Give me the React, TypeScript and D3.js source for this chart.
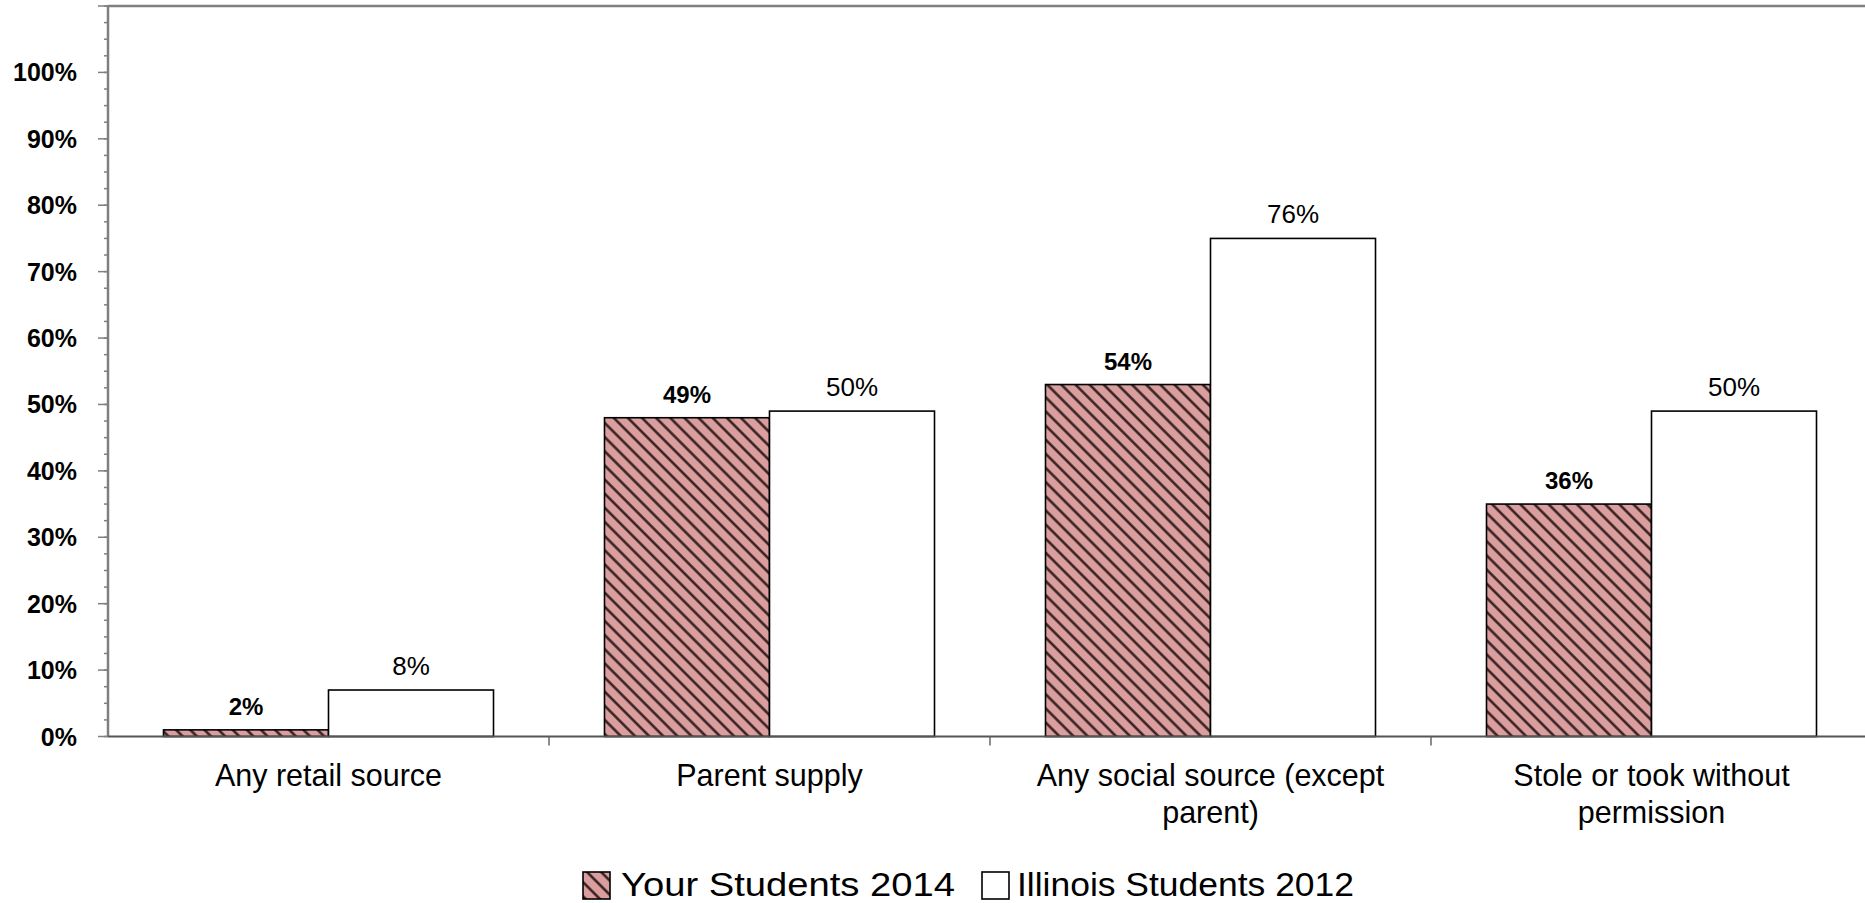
import React from "react";
import * as d3 from "d3";

const categories = [
  "Any retail source",
  "Parent supply",
  "Any social source (except parent)",
  "Stole or took without permission",
];
const categoryLines = [
  ["Any retail source"],
  ["Parent supply"],
  ["Any social source (except", "parent)"],
  ["Stole or took without", "permission"],
];
const seriesNames = ["Your Students 2014", "Illinois Students 2012"];
const yourStudents = [1, 48, 53, 35];
const yourLabels = ["2%", "49%", "54%", "36%"];
const illinoisStudents = [7, 49, 75, 49];
const illinoisLabels = ["8%", "50%", "76%", "50%"];
const yTickValues = [0, 10, 20, 30, 40, 50, 60, 70, 80, 90, 100];

const W = 1865;
const H = 903;
const left = 108;
const top = 6;
const bottom = 736.5;
const catWidth = 441;

const FONT = "'Liberation Sans', Arial, sans-serif";
const PINK = "#DA9E9E";

export default function App() {
  const x = d3
    .scaleBand<string>()
    .domain(categories)
    .range([left, left + catWidth * categories.length])
    .padding(0);
  const xs = d3
    .scaleBand<string>()
    .domain(seriesNames)
    .range([55.5, catWidth - 55.5])
    .padding(0);
  const y = d3.scaleLinear().domain([0, 110]).range([bottom, top]);

  const minorTicks = d3.range(0, 110.01, 2.5);
  const majorTicks = d3.range(0, 110.01, 10);

  const series = [
    { name: seriesNames[0], values: yourStudents, labels: yourLabels, pink: true },
    { name: seriesNames[1], values: illinoisStudents, labels: illinoisLabels, pink: false },
  ];

  return (
    <svg
      width={W}
      height={H}
      style={{ position: "absolute", left: 0, top: 0, background: "#fff" }}
      fontFamily={FONT}
    >
      <defs>
        <pattern
          id="hatch"
          patternUnits="userSpaceOnUse"
          width={10}
          height={10}
          patternTransform="rotate(45)"
        >
          <rect width={10} height={10} fill={PINK} />
          <line x1={0} y1={1.5} x2={10} y2={1.5} stroke="#2e1a1a" strokeWidth={2.4} />
        </pattern>
      </defs>
      <rect x={0} y={0} width={W} height={H} fill="#fff" />

      {/* top border */}
      <line x1={left} x2={W} y1={top} y2={top} stroke="#7f7f7f" strokeWidth={2.5} />

      {/* bars */}
      {series.map((s, si) =>
        categories.map((c, ci) => {
          const bx = (x(c) as number) + (xs(s.name) as number);
          const bw = xs.bandwidth();
          const by = y(s.values[ci]);
          return (
            <g key={`${si}-${ci}`}>
              <rect
                x={bx}
                y={by}
                width={bw}
                height={bottom - by}
                fill={s.pink ? "url(#hatch)" : "#fff"}
                stroke="#000"
                strokeWidth={1.6}
              />
              <text
                x={bx + bw / 2}
                y={by - 15}
                textAnchor="middle"
                fontSize={s.pink ? 24 : 26}
                fontWeight={s.pink ? "bold" : "normal"}
                fill="#000"
              >
                {s.labels[ci]}
              </text>
            </g>
          );
        })
      )}

      {/* y axis */}
      <line x1={left} x2={left} y1={top} y2={bottom} stroke="#7f7f7f" strokeWidth={2.5} />
      {minorTicks.map((t) => (
        <line key={`m${t}`} x1={left - 4} x2={left} y1={y(t)} y2={y(t)} stroke="#7f7f7f" strokeWidth={1.5} />
      ))}
      {majorTicks.map((t) => (
        <line key={`M${t}`} x1={left - 10} x2={left} y1={y(t)} y2={y(t)} stroke="#7f7f7f" strokeWidth={1.5} />
      ))}
      {yTickValues.map((t) => (
        <text
          key={`l${t}`}
          x={77}
          y={y(t)}
          dy="0.36em"
          textAnchor="end"
          fontSize={25}
          fontWeight="bold"
          fill="#000"
        >
          {`${t}%`}
        </text>
      ))}

      {/* x axis */}
      <line x1={left} x2={W} y1={bottom} y2={bottom} stroke="#555" strokeWidth={2} />
      {categories.map((c, ci) =>
        ci > 0 ? (
          <line
            key={`sep${ci}`}
            x1={x(c) as number}
            x2={x(c) as number}
            y1={bottom}
            y2={bottom + 9}
            stroke="#666"
            strokeWidth={1.5}
          />
        ) : null
      )}
      {categories.map((c, ci) => (
        <text
          key={`cat${ci}`}
          x={(x(c) as number) + catWidth / 2}
          y={786}
          textAnchor="middle"
          fontSize={30.5}
          fill="#000"
        >
          {categoryLines[ci].map((ln, li) => (
            <tspan key={li} x={(x(c) as number) + catWidth / 2} dy={li === 0 ? 0 : 37}>
              {ln}
            </tspan>
          ))}
        </text>
      ))}

      {/* legend */}
      <g>
        <rect x={583} y={872} width={27} height={27} fill="url(#hatch)" stroke="#000" strokeWidth={1.6} />
        <text x={621} y={896} fontSize={33} fill="#000" textLength={334} lengthAdjust="spacingAndGlyphs">
          {seriesNames[0]}
        </text>
        <rect x={982} y={872} width={27} height={27} fill="#fff" stroke="#000" strokeWidth={1.6} />
        <text x={1017} y={896} fontSize={33} fill="#000" textLength={337} lengthAdjust="spacingAndGlyphs">
          {seriesNames[1]}
        </text>
      </g>
    </svg>
  );
}
